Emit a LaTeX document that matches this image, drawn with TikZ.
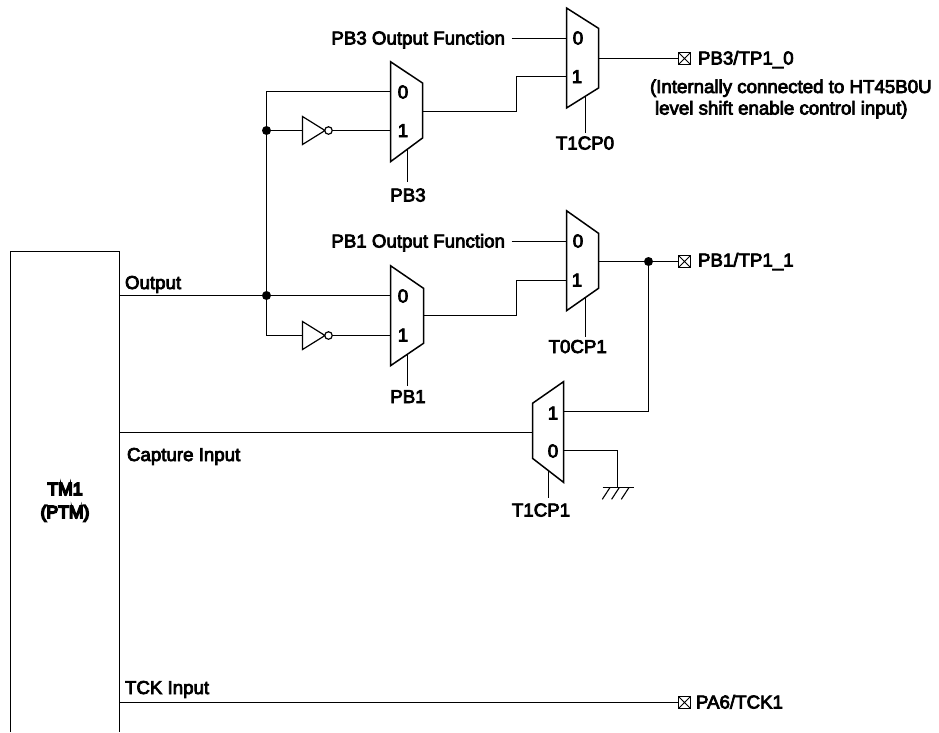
\documentclass[tikz,border=0pt]{standalone}
\usepackage{fontspec}
\setmainfont[FakeBold=4]{Liberation Sans}
\newfontfamily\boldlab[FakeBold=9]{Liberation Sans}
\tikzset{
  wire/.style={line width=1.5pt,black},
  ctl/.style={line width=1.5pt,black},
  muxbody/.style={line width=1.5pt,black,fill=white,line join=miter},
  lab/.style={inner sep=0pt,outer sep=0pt,font=\fontsize{18.7}{20}\selectfont,text=black},
  labl/.style={lab,anchor=base west},
  labr/.style={lab,anchor=base east},
  labc/.style={lab,anchor=base},
  dot/.style={circle,fill=black,draw=none,minimum size=9pt,inner sep=0pt,outer sep=0pt},
  pin/.style={rectangle,draw=black,line width=1.2pt,fill=white,minimum size=11.5pt,inner sep=0pt,outer sep=0pt,
    path picture={\draw[line width=0.9pt] (path picture bounding box.north west)--(path picture bounding box.south east)
      (path picture bounding box.north east)--(path picture bounding box.south west);}},
  bubble/.style={circle,draw=black,line width=1.2pt,fill=white,minimum size=7.5pt,inner sep=0pt,outer sep=0pt},
}
\newcommand{\muxat}[7]{% name, xl, xr, ytopl, ytopr, ybotr, ybotl
  \draw[muxbody] (#2,#4) -- (#3,#5) -- (#3,#6) -- (#2,#7) -- cycle;
}
\newcommand{\inverter}[3]{% name, x-left, y
  \draw[line width=1.2pt,black,fill=white,line join=miter] (#2,#3-14) -- (#2+22.5,#3) -- (#2,#3+14) -- cycle;
  \node[bubble] (#1) at (#2+26,#3) {};
}
\begin{document}
\begin{tikzpicture}[x=1pt,y=-1pt]
\useasboundingbox (0,0) rectangle (939,732);
% TM1 block (open at the bottom edge)
\draw[wire] (10.5,732) -- (10.5,251.5) -- (119.5,251.5) -- (119.5,732);
\node[labc,font=\fontsize{17.6}{20}\boldlab] (tm1) at (65,495) {TM1};
\node[labc,font=\fontsize{17.6}{20}\boldlab] (ptm) at (65,518) {(PTM)};
% named points
\coordinate (outL) at (119.5,295.5);
\coordinate (capL) at (119.5,432.5);
\coordinate (tckL) at (119.5,702.5);
\node[dot] (j1) at (266.5,130.5) {};
\node[dot] (j2) at (266.5,295.5) {};
\node[dot] (j3) at (648.5,261.5) {};
\node[pin] (p3) at (684.5,58.5) {};
\node[pin] (p1) at (684.5,261.5) {};
\node[pin] (p6) at (684.5,702.5) {};
% mux pins
\coordinate (a0) at (390.5,91.5);  \coordinate (a1) at (390.5,130.5); \coordinate (aO) at (422.5,111.5); \coordinate (aC) at (407.5,150);
\coordinate (b0) at (566.5,38.5);  \coordinate (b1) at (566.5,76.5);  \coordinate (bO) at (598.5,58.5);  \coordinate (bC) at (585.5,95);
\coordinate (c0) at (390.5,295.5); \coordinate (c1) at (390.5,335.5); \coordinate (cO) at (423.5,315.5); \coordinate (cC) at (407.5,354);
\coordinate (d0) at (566.5,241.5); \coordinate (d1) at (566.5,280.5); \coordinate (dO) at (598.5,261.5); \coordinate (dC) at (585.5,298);
\coordinate (e1) at (563.5,411.5); \coordinate (e0) at (563.5,450.5); \coordinate (eI) at (532.5,432.5); \coordinate (eC) at (548.5,470);
\coordinate (gnd) at (617.5,487.5);
\coordinate (f3) at (511.5,38.5);
\coordinate (f1) at (511.5,241.5);
% wires
\draw[wire] (j2) -- (outL);
\draw[wire] (j2) -- (c0);
\draw[wire] (a0) -| (j1.center) -- (j2.center) |- (c1);
\draw[wire] (j1) -- (a1);
\draw[wire] (aO) -- (516.5,111.5) |- (b1);
\draw[wire] (cO) -- (516.5,315.5) |- (d1);
\draw[wire] (f3) -- (b0);
\draw[wire] (f1) -- (d0);
\draw[wire] (bO) -- (p3);
\draw[wire] (dO) -- (p1);
\draw[wire] (capL) -- (eI);
\draw[wire] (e1) -| (j3);
\draw[wire] (e0) -| (gnd);
\draw[wire] (tckL) -- (p6);
\draw[ctl] (aC) -- (407.5,181.5);
\draw[ctl] (bC) -- (585.5,133);
\draw[ctl] (cC) -- (407.5,386);
\draw[ctl] (dC) -- (585.5,336.5);
\draw[ctl] (eC) -- (548.5,497.5);
% ground
\draw[wire] (602.5,487.5) -- (633.5,487.5);
\draw[line width=1.1pt] (610,487.5) -- (602.3,499.3) (619.3,487.5) -- (611.6,499.3) (629,487.5) -- (621.3,499.3);
% muxes
\muxat{A}{390.5}{422.5}{61.7}{83}{138}{161.7}
\muxat{B}{566.5}{598.5}{8}{28.3}{88}{108}
\muxat{C}{390.5}{423.5}{265.7}{288.3}{343.3}{365.7}
\muxat{D}{566.5}{598.5}{210.7}{233.3}{288.3}{310.7}
\muxat{E}{532.5}{563.5}{403.3}{381.7}{482.3}{458.3}
% inverters
\inverter{inva}{302.5}{130.5}
\inverter{invc}{302.5}{335.5}
% digits
\node[labc] (a0t) at (403,98.5) {0};
\node[labc] (a1t) at (403,137) {1};
\node[labc] (b0t) at (578,44.5) {0};
\node[labc] (b1t) at (577,83) {1};
\node[labc] (c0t) at (403,302.5) {0};
\node[labc] (c1t) at (403,341.5) {1};
\node[labc] (d0t) at (578,247.5) {0};
\node[labc] (d1t) at (577,286.5) {1};
\node[labc] (e1t) at (553,419.5) {1};
\node[labc] (e0t) at (553,457.5) {0};
% labels
\node[labr] (l3) at (505,44.5) {PB3 Output Function};
\node[labr] (l1) at (505,247.5) {PB1 Output Function};
\node[labl] (tp3) at (698,64.5) {PB3/TP1\_0};
\node[labl] (tp1) at (698,266.5) {PB1/TP1\_1};
\node[labl] (tp6) at (696,708.5) {PA6/TCK1};
\node[labl] (n1) at (650,93) {(Internally connected to HT45B0U};
\node[labl] (n2) at (655,114.5) {level shift enable control input)};
\node[labl] (lo) at (125,289) {Output};
\node[labl] (lc) at (127,461) {Capture Input};
\node[labl] (lt) at (125,694) {TCK Input};
\node[labc] (pb3) at (408,201.5) {PB3};
\node[labc] (t1cp0) at (585,149.5) {T1CP0};
\node[labc] (pb1) at (408,403) {PB1};
\node[labc] (t0cp1) at (577.7,353) {T0CP1};
\node[labc] (t1cp1) at (541,516.5) {T1CP1};
\end{tikzpicture}
\end{document}
